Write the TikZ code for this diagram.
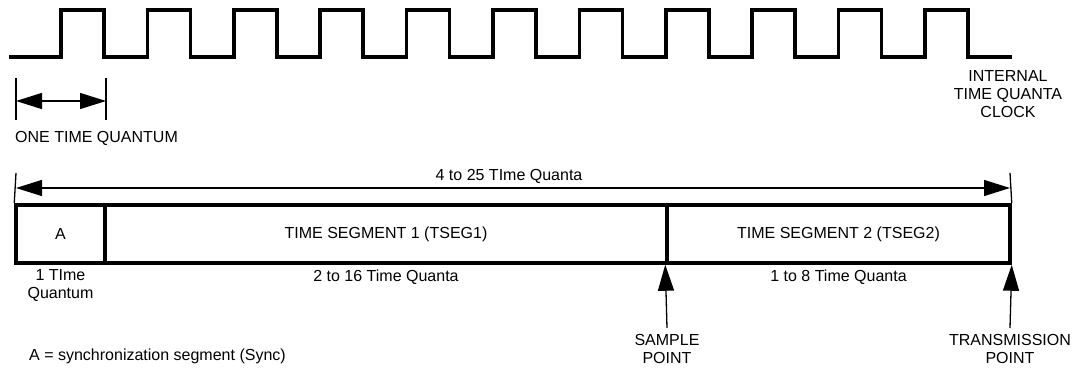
\documentclass[tikz,border=0pt]{standalone}
\usepackage{fontspec}
\setmainfont{Liberation Sans}
\usetikzlibrary{arrows.meta}

\begin{document}
\begin{tikzpicture}[x=1pt,y=-1pt,>={Triangle[length=26pt,width=16pt]},
    every node/.style={font=\fontsize{16}{18}\selectfont, inner sep=0pt},
    seg/.style={draw, line width=3.5pt, minimum height=58pt},
    dim/.style={line width=1.3pt},
    clk/.style={line width=3.5pt}]
                \useasboundingbox (0,0) rectangle (1078,371);

                % Takt sinyali
                \draw[clk] (9,57) \foreach \i in {0,...,10}{
                    -- ({61+86.4*\i},57) -- ({61+86.4*\i},10)
                    -- ({104+86.4*\i},10) -- ({104+86.4*\i},57)} -- (1012,57);
                \node[align=center] (clklbl) at (1008,94) {INTERNAL\\TIME QUANTA\\CLOCK};

                % Bir zaman kuantumu
                \coordinate (qa) at (16,78);
                \coordinate (qb) at (106,78);
                \draw[dim] (qa) -- ++(0,42);
                \draw[dim] (qb) -- ++(0,42);
                \draw[dim,<->] ([yshift=-23pt]qa) -- ([yshift=-23pt]qb);
                \node[anchor=west] (onetq) at (15,138) {ONE TIME QUANTUM};

                % Bit segmentleri
                \node[seg, minimum width=89pt] (sync) at (60.5,234) {A};
                \node[seg, minimum width=562pt] (tseg1) at (386,234) {TIME SEGMENT 1 (TSEG1)};
                \node[seg, minimum width=343pt] (tseg2) at (838.5,234) {TIME SEGMENT 2 (TSEG2)};

                % Toplam uzunluk
                \coordinate (tl) at (16,173);
                \coordinate (tr) at (1010,173);
                \draw[dim] (tl) -- (sync.north west);
                \draw[dim] (tr) -- (tseg2.north east);
                \draw[dim,<->] ([yshift=-15pt]tl) -- ([yshift=-15pt]tr);
                \node (total) at (509,176) {4 to 25 TIme Quanta};

                % Segment uzunlukları
                \node[align=center] (synclen) at (60.5,286) {1 TIme\\Quantum};
                \node (t1len) at (386,277) {2 to 16 Time Quanta};
                \node (t2len) at (838.5,277) {1 to 8 Time Quanta};

                % Örnekleme ve iletim noktaları
                \coordinate (sp) at (667,328);
                \coordinate (tp) at (1010,328);
                \draw[dim,->] (sp) -- (tseg2.south west);
                \draw[dim,->] (tp) -- (tseg2.south east);
                \node[align=center] (splbl) at (667,349) {SAMPLE\\POINT};
                \node[align=center] (tplbl) at (1010,349) {TRANSMISSION\\POINT};

                \node[anchor=west] (note) at (29,356) {A = synchronization segment (Sync)};
            \end{tikzpicture}
\end{document}
